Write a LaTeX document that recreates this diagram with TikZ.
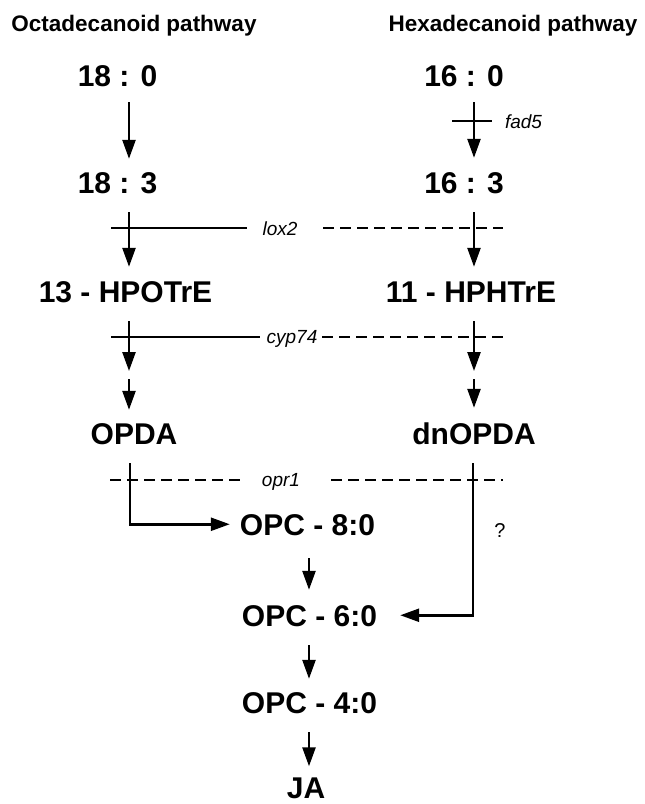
\documentclass[tikz,border=0pt]{standalone}
\usepackage{fontspec}
\setmainfont{Liberation Sans}
\usetikzlibrary{arrows.meta}
\begin{document}
\begin{tikzpicture}[x=1pt,y=-1pt,
  ttl/.style={font=\fontsize{22.5pt}{22.5pt}\selectfont\bfseries, inner sep=0pt, anchor=base},
  met/.style={font=\fontsize{30pt}{30pt}\selectfont\bfseries, inner sep=0pt, anchor=base, text height=21.5pt, text depth=0pt},
  enz/.style={font=\fontsize{19pt}{19pt}\selectfont\itshape, inner sep=0pt, anchor=base},
  qm/.style={font=\fontsize{20pt}{20pt}\selectfont, inner sep=0pt, anchor=base},
  arr/.style={line width=2.5pt, -{Triangle[length=19pt,width=13pt]}},
  elbow/.style={line width=2.5pt, -{Triangle[length=19pt,width=13pt]}},
  enzsolid/.style={line width=1.4pt},
  enzdash/.style={line width=1.4pt, dash pattern=on 11pt off 6pt}]
\useasboundingbox (0,0) rectangle (645,804);

% column references
\coordinate (L) at (129,0);
\coordinate (R) at (474,0);
\coordinate (C) at (309,0);

% titles
\node[ttl] (t1) at (134,31) {Octadecanoid pathway};
\node[ttl] (t2) at (513,31) {Hexadecanoid pathway};

% metabolites
\node[met] (n180) at (117.5,86) {18 : 0};
\node[met] (n160) at (464,86) {16 : 0};
\node[met] (n183) at (117.5,193) {18 : 3};
\node[met] (n163) at (464,193) {16 : 3};
\node[met] (hpo) at (125.5,302) {13 - HPOTrE};
\node[met] (hph) at (471,302) {11 - HPHTrE};
\node[met] (opda) at (134,444) {OPDA};
\node[met] (dnopda) at (474,444) {dnOPDA};
\node[met] (opc8) at (307.5,535) {OPC - 8:0};
\node[met] (opc6) at (309.5,626) {OPC - 6:0};
\node[met] (opc4) at (309.5,713) {OPC - 4:0};
\node[met] (ja) at (306,798) {JA};

% enzyme labels
\node[enz] (fad5) at (523.5,128) {fad5};
\node[enz] (lox2) at (280,235) {lox2};
\node[enz] (cyp74) at (292,343) {cyp74};
\node[enz] (opr1) at (281,486) {opr1};
\node[qm] (qmark) at (500,537.5) {?};

% enzyme lines
\coordinate (fadA) at (452,121);
\coordinate (fadB) at (492,121);
\draw[enzsolid] (fadA) -- (fadB);

\coordinate (loxA) at (111,228);
\coordinate (loxB) at (247,228);
\coordinate (loxC) at (323,228);
\coordinate (loxD) at (503,228);
\draw[enzsolid] (loxA) -- (loxB);
\draw[enzdash] (loxC) -- (loxD);

\coordinate (cypA) at (111,337);
\coordinate (cypB) at (260,337);
\coordinate (cypC) at (322,337);
\coordinate (cypD) at (503,337);
\draw[enzsolid] (cypA) -- (cypB);
\draw[enzdash] (cypC) -- (cypD);

\coordinate (oprA) at (110,480);
\coordinate (oprB) at (246,480);
\coordinate (oprC) at (331,480);
\coordinate (oprD) at (503,480);
\draw[enzdash] (oprA) -- (oprB);
\draw[enzdash] (oprC) -- (oprD);

% pathway arrows, left column
\draw[arr, shorten <=16pt, shorten >=12.5pt] (n180.south -| L) -- (n183.north -| L);
\draw[arr, shorten <=19pt, shorten >=13.5pt] (n183.south -| L) -- (hpo.north -| L);
\coordinate (midL) at (129,375);
\draw[arr, shorten <=19pt, shorten >=4pt] (hpo.south -| L) -- (midL);
\draw[arr, shorten <=4pt, shorten >=12.5pt] (midL) -- (opda.north -| L);

% pathway arrows, right column
\draw[arr, shorten <=16pt, shorten >=13.5pt] (n160.south -| R) -- (n163.north -| R);
\draw[arr, shorten <=19pt, shorten >=13.5pt] (n163.south -| R) -- (hph.north -| R);
\coordinate (midR) at (474,375);
\draw[arr, shorten <=19pt, shorten >=4pt] (hph.south -| R) -- (midR);
\draw[arr, shorten <=4pt, shorten >=14.5pt] (midR) -- (dnopda.north -| R);

% elbows
\draw[elbow, shorten <=19pt, shorten >=10pt] ([xshift=1pt]opda.south -| L) |- (opc8.west);
\draw[elbow, shorten <=19pt, shorten >=23pt] ([xshift=-1pt]dnopda.south -| R) |- (opc6.east);

% lower chain
\draw[arr, shorten <=23pt, shorten >=14.5pt] (opc8.south -| C) -- (opc6.north -| C);
\draw[arr, shorten <=19pt, shorten >=12.5pt] (opc6.south -| C) -- (opc4.north -| C);
\draw[arr, shorten <=19pt, shorten >=10pt] (opc4.south -| C) -- (ja.north -| C);
\end{tikzpicture}
\end{document}
